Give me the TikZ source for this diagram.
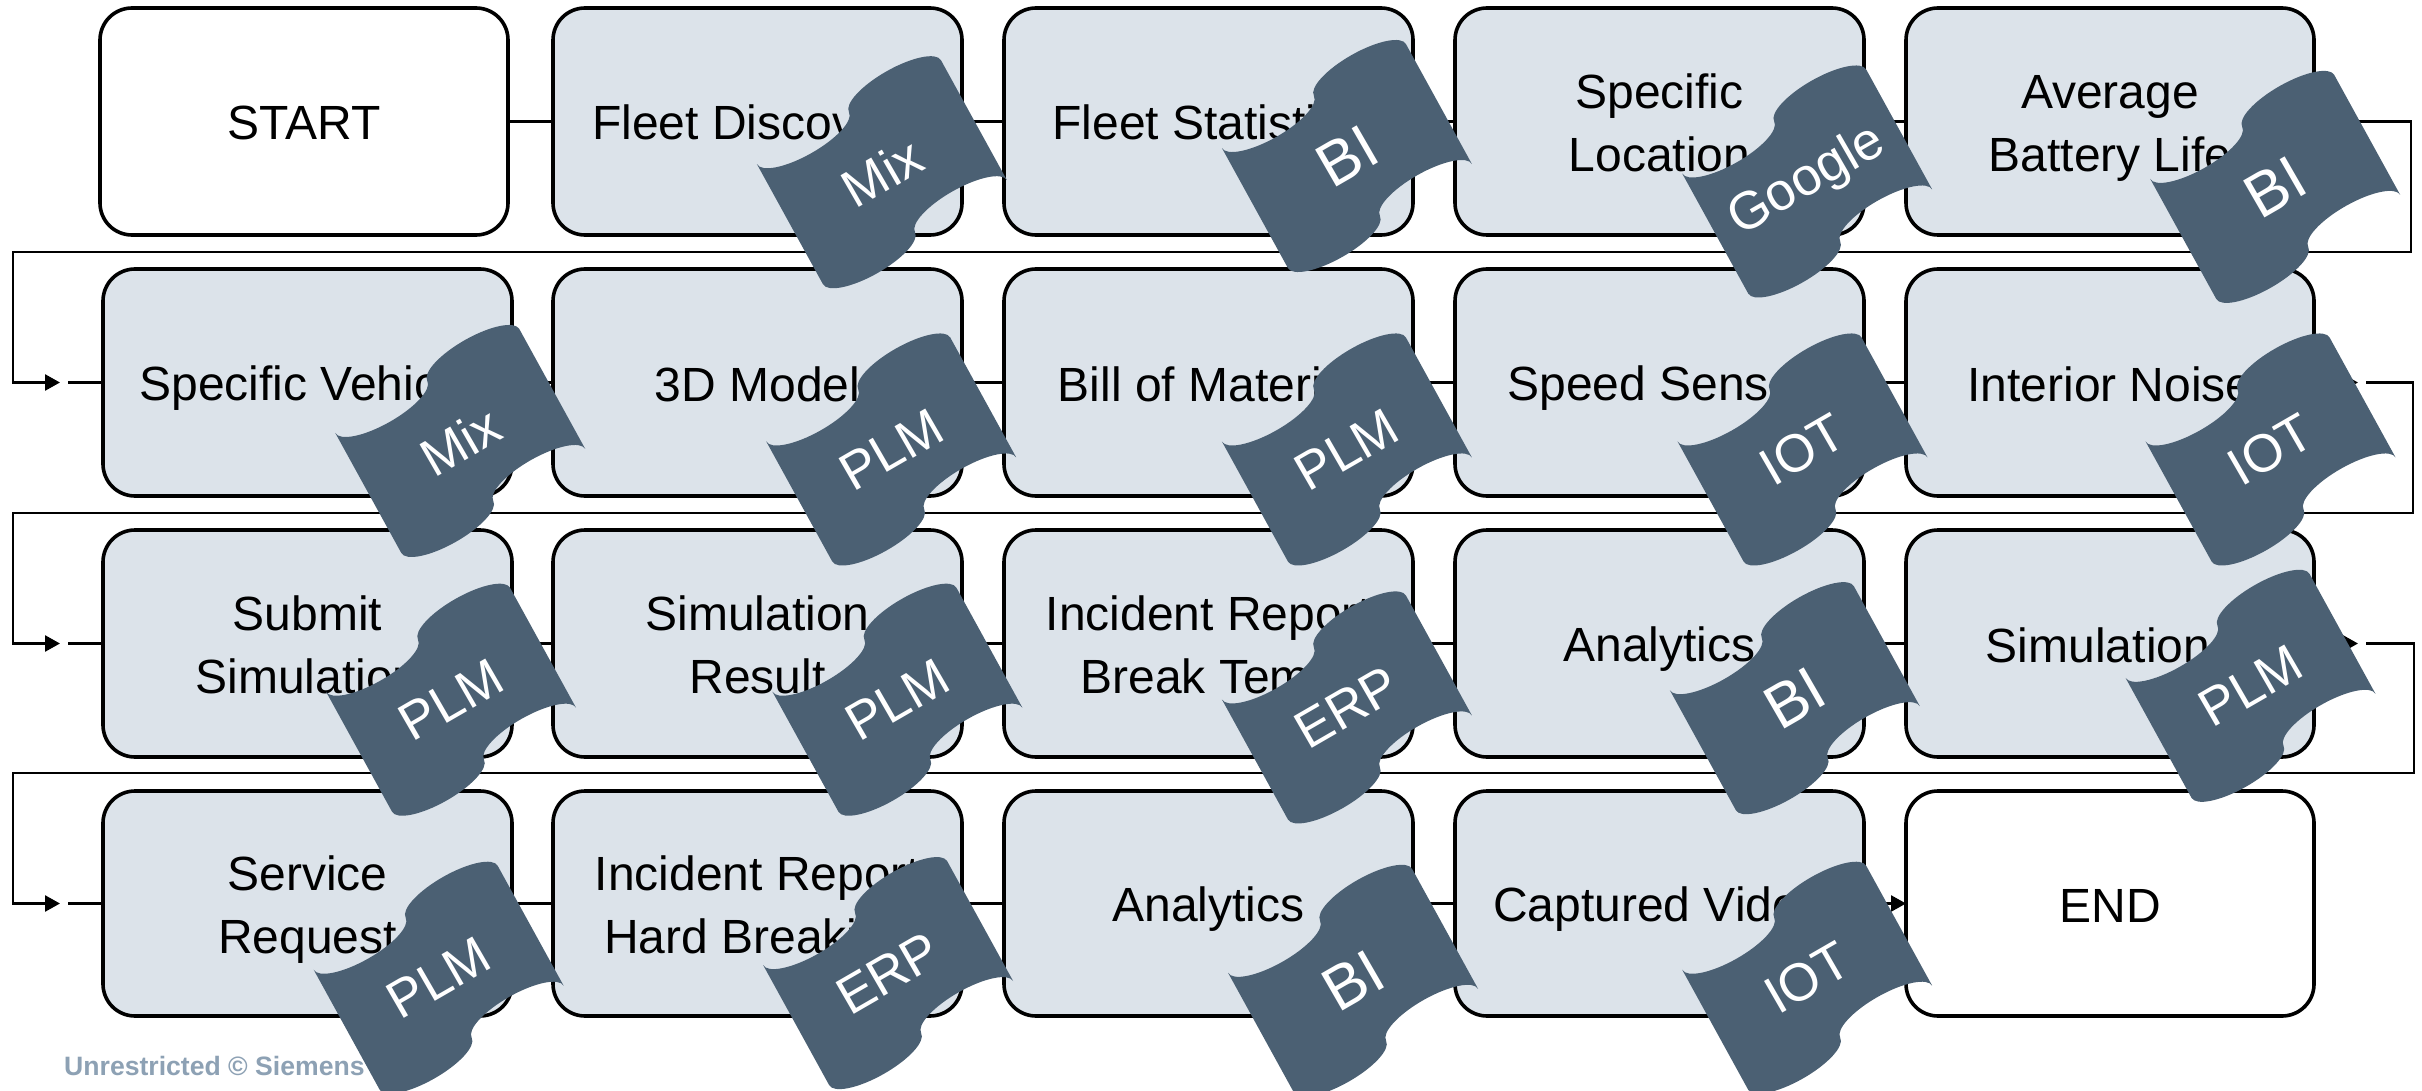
\documentclass[tikz,border=0pt]{standalone}
\usepackage{fontspec}
\setmainfont{Liberation Sans}
\usetikzlibrary{arrows.meta}
\definecolor{tagblue}{HTML}{4B6073}
\definecolor{boxfill}{HTML}{DCE3EA}
\definecolor{foot}{HTML}{8DA1B4}
\newcommand{\lst}{\rule[-9pt]{0pt}{55pt}}
\tikzset{
  every node/.style={font=\fontsize{48}{63}\selectfont},
  basebox/.style={draw=black,line width=3.6pt,rounded corners=32pt,inner sep=0pt,outer sep=0pt,align=center,anchor=north west},
  graybox/.style={basebox,fill=boxfill},
  whitebox/.style={basebox,fill=white},
  link/.style={draw=black,line width=2.6pt},
  arrowlink/.style={link,-{Triangle[length=15pt,width=16pt]}},
  tagtext/.style={text=white,rotate=30,font=\fontsize{#1}{50}\selectfont},
  tagtext/.default=53,
}
\newcommand{\flowbox}[7]{% style,name,x0,y0,x1,y1,text
  \node[#1,minimum width=#5pt-#3pt,minimum height=#6pt-#4pt] (#2) at (#3,#4) {#7};}
\newcommand{\flowtag}[5][53]{% size,name,previewx,previewy,text
  \begin{scope}[shift={({#3*1.5446pt},{-#4*1.5446pt})},x={(92pt,52pt)},y={(33pt,-60pt)}]
    \fill[tagblue] (-1,-1)
      .. controls (-1,-.862) and (-.776,-.75) .. (-.5,-.75)
      .. controls (-.224,-.75) and (0,-.862) .. (0,-1)
      .. controls (0,-1.138) and (.224,-1.25) .. (.5,-1.25)
      .. controls (.776,-1.25) and (1,-1.138) .. (1,-1)
      -- (1,1)
      .. controls (1,.862) and (.776,.75) .. (.5,.75)
      .. controls (.224,.75) and (0,.862) .. (0,1)
      .. controls (0,1.138) and (-.224,1.25) .. (-.5,1.25)
      .. controls (-.776,1.25) and (-1,1.138) .. (-1,1)
      -- cycle;
    \node[tagtext=#1] (#2) at (0,0) {#5};
  \end{scope}}
\begin{document}
\begin{tikzpicture}[x=1pt,y=-1pt]
\useasboundingbox (0,0) rectangle (2422,1091);
% row 1
\flowbox{whitebox}{b11}{100}{8}{508}{235}{\lst START}
\flowbox{graybox}{b12}{553}{8}{962}{235}{\lst Fleet Discovery}
\flowbox{graybox}{b13}{1004}{8}{1413}{235}{\lst Fleet Statistics}
\flowbox{graybox}{b14}{1455}{8}{1864}{235}{\lst Specific\\\lst Location}
\flowbox{graybox}{b15}{1906}{8}{2314}{235}{\lst Average\\\lst Battery Life}
% row 2
\flowbox{graybox}{b21}{103}{269}{512}{496}{\lst Specific Vehicle}
\flowbox{graybox}{b22}{553}{269}{962}{496}{\lst 3D Model}
\flowbox{graybox}{b23}{1004}{269}{1413}{496}{\lst Bill of Material}
\flowbox{graybox}{b24}{1455}{269}{1864}{496}{\lst Speed Sensor}
\flowbox{graybox}{b25}{1906}{269}{2314}{496}{\lst Interior Noise}
% row 3
\flowbox{graybox}{b31}{103}{530}{512}{757}{\lst Submit\\\lst Simulation}
\flowbox{graybox}{b32}{553}{530}{962}{757}{\lst Simulation\\\lst Result}
\flowbox{graybox}{b33}{1004}{530}{1413}{757}{\lst Incident Report\\\lst Break Temp}
\flowbox{graybox}{b34}{1455}{530}{1864}{757}{\lst Analytics}
\flowbox{graybox}{b35}{1906}{530}{2314}{757}{\lst Simulation\phantom{s}}
% row 4
\flowbox{graybox}{b41}{103}{791}{512}{1016}{\lst Service\\\lst Request}
\flowbox{graybox}{b42}{553}{791}{962}{1016}{\lst Incident Report\\\lst Hard Breaking}
\flowbox{graybox}{b43}{1004}{791}{1413}{1016}{\lst Analytics}
\flowbox{graybox}{b44}{1455}{791}{1864}{1016}{\lst Captured Video}
\flowbox{whitebox}{b45}{1906}{791}{2314}{1016}{\lst END}
% straight connectors
\foreach \a/\b in {1/2,2/3,3/4,4/5}{
  \draw[link] (b1\a.east) -- (b1\b.west);
  \draw[link] (b2\a.east) -- (b2\b.west);
  \draw[link] (b3\a.east) -- (b3\b.west);
}
\foreach \a/\b in {1/2,2/3,3/4}{
  \draw[link] (b4\a.east) -- (b4\b.west);
}
\draw[arrowlink] (b44.east) -- (b45.west);
% returns
\coordinate (in2) at (60,382.5);
\coordinate (st2) at (68,382.5);
\coordinate (in3) at (60,643.5);
\coordinate (st3) at (68,643.5);
\coordinate (in4) at (60,903.5);
\coordinate (st4) at (68,903.5);
\coordinate (out2) at (2358,382.5);
\coordinate (go2) at (2366,382.5);
\coordinate (out3) at (2358,643.5);
\coordinate (go3) at (2366,643.5);
\draw[link] (st2) -- (b21.west);
\draw[link] (st3) -- (b31.west);
\draw[link] (st4) -- (b41.west);
\draw[arrowlink] (b15.east) -- (2411,121.5) -- (2411,252) -- (13,252) -- (13,382.5) -- (in2);
\draw[arrowlink] (b25.east) -- (out2);
\draw[arrowlink] (go2) -- (2413,382.5) -- (2413,513) -- (13,513) -- (13,643.5) -- (in3);
\draw[arrowlink] (b35.east) -- (out3);
\draw[arrowlink] (go3) -- (2414,643.5) -- (2414,773) -- (13,773) -- (13,903.5) -- (in4);
% footer
\node[anchor=west,text=foot,font=\fontsize{26.6}{30}\selectfont\bfseries,inner sep=0pt] (foot) at (64,1066) {Unrestricted © Siemens};
% tags
\flowtag{t11}{571}{111.5}{Mix}
\flowtag[62]{t12}{872}{101}{BI}
\flowtag{t13}{1170}{117.5}{Google}
\flowtag[62]{t14}{1473}{121}{BI}
\flowtag{t21}{298}{285.5}{Mix}
\flowtag{t22}{577}{291}{PLM}
\flowtag{t23}{872}{291}{PLM}
\flowtag{t24}{1167}{291}{IOT}
\flowtag{t25}{1470}{291}{IOT}
\flowtag{t31}{292}{453}{PLM}
\flowtag{t32}{581}{453}{PLM}
\flowtag{t33}{872}{458}{ERP}
\flowtag[62]{t34}{1162}{452}{BI}
\flowtag{t35}{1457}{444}{PLM}
\flowtag{t41}{284}{633}{PLM}
\flowtag{t42}{575}{630}{ERP}
\flowtag[62]{t43}{876}{635}{BI}
\flowtag{t44}{1170}{633}{IOT}
\end{tikzpicture}
\end{document}
